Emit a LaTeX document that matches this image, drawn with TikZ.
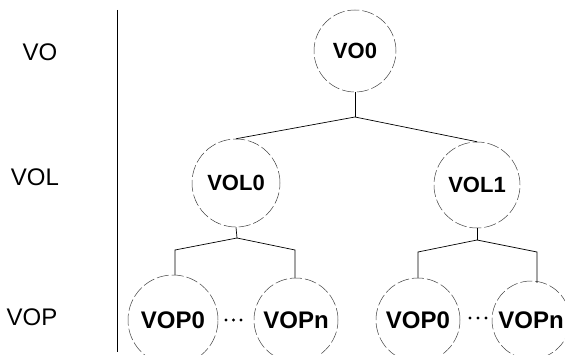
\documentclass[tikz,border=0pt]{standalone}
\usepackage{fontspec}
\setmainfont{Liberation Sans}
\begin{document}
\begin{tikzpicture}[x=1pt,y=1pt,
  obj/.style={circle,draw=black!75,line width=0.5pt,dash pattern=on 12pt off 3pt,inner sep=0pt,font=\fontsize{22}{24}\selectfont\bfseries},
  plane/.style={obj,font=\fontsize{24}{26}\selectfont\bfseries},
  level/.style={font=\fontsize{24}{26}\selectfont},
  link/.style={line width=0.7pt,black},
  dot/.style={circle,fill=black,inner sep=0pt,minimum size=3.4pt}]
\useasboundingbox (0,0) rectangle (565,354);

% level names and separator
\node[level] (lvo)  at (40,302) {VO};
\node[level] (lvol) at (35,177) {VOL};
\node[level] (lvop) at (32,37)  {VOP};
\coordinate (sepTop) at (117,344);
\coordinate (sepBot) at (117,2);
\draw[line width=1pt] (sepTop) -- (sepBot);

% object
\node[obj,minimum size=82pt] (vo0) at (355,303) {VO0};

% layers
\node[obj,minimum size=88pt] (vol0) at (236,171) {VOL0};
\node[obj,minimum size=86pt] (vol1) at (477,169) {VOL1};

% planes
\node[plane,minimum size=90pt] (p00) at (173,34) {VOP0};
\node[plane,minimum size=84pt] (p0n) at (296,34) {VOPn};
\node[plane,minimum size=84pt] (p10) at (418,34) {VOP0};
\node[plane,minimum size=78pt] (p1n) at (531,34) {VOPn};

% ellipsis dots
\node[dot] (d1) at (226,34) {};
\node[dot] (d2) at (233.5,34) {};
\node[dot] (d3) at (241,34) {};
\node[dot] (d4) at (470,36) {};
\node[dot] (d5) at (478,36) {};
\node[dot] (d6) at (486,36) {};

% branch points
\coordinate (j0) at (355,237);
\coordinate (j1) at (237,116);
\coordinate (j1l) at (175,104);
\coordinate (j1r) at (295,104);
\coordinate (j2) at (477,114);
\coordinate (j2l) at (418,102);
\coordinate (j2r) at (537,102);

% tree connectors
\draw[link] (vo0.south) -- (j0);
\draw[link] (j0) -- (vol0.north);
\draw[link] (j0) -- (vol1.north);
\draw[link] (vol0.south) -- (j1);
\draw[link] (j1) -- (j1l) -- (p00.north -| j1l);
\draw[link] (j1) -- (j1r) -- (p0n.north -| j1r);
\draw[link] (vol1.south) -- (j2);
\draw[link] (j2) -- (j2l) -- (p10.north -| j2l);
\draw[link] (j2) -- (j2r) -- ([yshift=-2pt]p1n.north -| j2r);
\end{tikzpicture}
\end{document}
